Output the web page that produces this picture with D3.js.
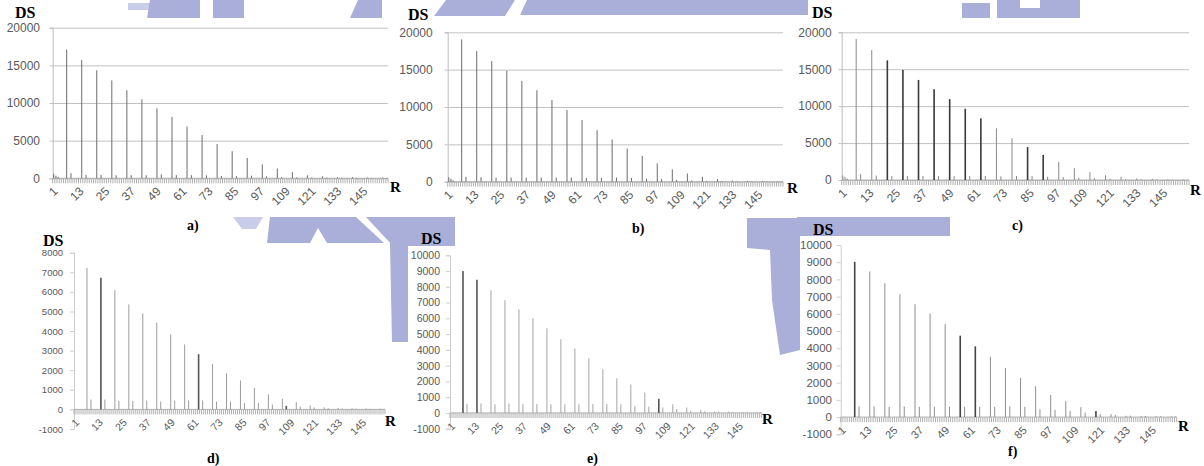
<!DOCTYPE html>
<html>
<head>
<meta charset="utf-8">
<script src="https://cdn.jsdelivr.net/npm/d3@7"></script>
<style>
  body { margin: 0; background: #fff; }
  svg { display: block; }
  .tick-lbl { font-family: "Liberation Sans", Arial, sans-serif; fill: #595959; }
  .serif { font-family: "Liberation Serif", "Times New Roman", serif; font-weight: bold; fill: #000; }
</style>
</head>
<body>
<svg id="fig" width="1204" height="466"></svg>
<script>
// ---- data ---------------------------------------------------------------
const categories = d3.range(1, 157);               // R = 1 .. 156
const tickLabels = ["1","13","25","37","49","61","73","85","97","109","121","133","145"];

// R positions of the strong peaks, the small side peaks and the leading values
const peakR = [7,14,21,28,35,42,49,56,63,70,77,84,91,98,105,112,119,126,133,140,147,154];
const sideR = [9,16,23,30,37,44,51,58,65,72,79,86,93,100,107,114,121,128,135,142,149,156];
const headR = [1,2,3];

const yTicksTop = [0,5000,10000,15000,20000];
const yTicksD   = [-1000,0,1000,2000,3000,4000,5000,6000,7000,8000];
const yTicksEF  = [-1000,0,1000,2000,3000,4000,5000,6000,7000,8000,9000,10000];

const peakA = [17100,15700,14350,13000,11700,10500,9300,8150,6900,5750,4550,3600,2700,1850,1300,800,400,250,150,150,100,100];
const sideA = [680,450,450,400,420,400,530,420,420,400,300,280,350,250,150,120,100,100,80,80,60,60];
const headA = [600,350,200];

const peakB = [19050,17500,16150,14850,13500,12250,10950,9600,8250,6900,5650,4450,3450,2450,1650,1100,650,350,150,100,80,60];
const sideB = [650,600,550,550,550,550,550,550,500,500,550,500,400,350,250,150,100,80,60,60,50,50];
const headB = [600,400,200];

const peakC = [19100,17600,16200,14900,13550,12300,10950,9650,8350,7000,5650,4450,3400,2450,1600,1050,650,450,200,150,100,80];
const sideC = [800,600,550,550,550,550,550,550,550,500,550,550,450,400,300,250,150,100,80,60,50,50];
const headC = [600,450,200];

const peakD = [7230,6720,6090,5360,4900,4430,3830,3320,2820,2330,1840,1480,1100,770,540,370,200,100,80,60,50,40];
const sideD = [500,500,430,430,450,400,450,450,450,400,400,330,330,250,180,150,100,60,50,40,30,30];
const headD = [0,0,0];

const peakE = [9000,8450,7780,7150,6580,6000,5370,4680,4080,3470,2780,2200,1800,1290,900,550,340,170,100,80,60,50];
const sideE = [580,600,550,600,560,560,550,550,550,560,560,550,420,400,350,250,150,100,80,60,50,40];
const headE = [0,0,0];

const peakF = [9020,8460,7780,7140,6560,6020,5400,4730,4110,3510,2860,2280,1800,1290,930,580,350,170,80,60,50,40];
const sideF = [620,620,600,620,600,600,600,600,600,600,620,600,450,420,350,270,170,130,80,60,50,40];
const headF = [0,0,0];

// ---- layout -------------------------------------------------------------
const panels = [
  { name:"a)", peak:peakA, side:sideA, head:headA, yTicks:yTicksTop, grid:true,
    left:52.7, right:388, bottom:178.3, top:27.7, yDomain:[0,20000], gap:12.7, fs:12, xfs:12,
    ds:[15,18], r:[390,192], cap:[187,230], color:"#6c6c6c", heavy:[], heavyColor:"#444" },
  { name:"b)", peak:peakB, side:sideB, head:headB, yTicks:yTicksTop, grid:true,
    left:447.7, right:783, bottom:181.7, top:32.3, yDomain:[0,20000], gap:15, fs:12, xfs:12,
    ds:[408,20], r:[787,193], cap:[632,233], color:"#6c6c6c", heavy:[], heavyColor:"#444" },
  { name:"c)", peak:peakC, side:sideC, head:headC, yTicks:yTicksTop, grid:true,
    left:841.7, right:1189, bottom:180, top:32.3, yDomain:[0,20000], gap:10, fs:12, xfs:12,
    ds:[812,18], r:[1190,195], cap:[1012,230], color:"#8a8a8a",
    heavy:[21,28,35,42,49,56,63,84,91], heavyColor:"#3a3a3a" },
  { name:"d)", peak:peakD, side:sideD, head:headD, yTicks:yTicksD, grid:false,
    left:74, right:385, bottom:429, top:252.7, yDomain:[-1000,8000], gap:11, fs:9.5, xfs:10.5,
    ds:[43,246], r:[385,426], cap:[207,463], color:"#9c9c9c", heavy:[14,63,107], heavyColor:"#555" },
  { name:"e)", peak:peakE, side:sideE, head:headE, yTicks:yTicksEF, grid:false,
    left:450, right:761.7, bottom:428.7, top:255.3, yDomain:[-1000,10000], gap:10, fs:10.5, xfs:10.5,
    ds:[421,244], r:[762,424], cap:[587,463], color:"#a4a4a4", heavy:[7,14,105], heavyColor:"#555" },
  { name:"f)", peak:peakF, side:sideF, head:headF, yTicks:yTicksEF, grid:false,
    left:840.7, right:1176.7, bottom:434.3, top:245, yDomain:[-1000,10000], gap:8.7, fs:11.5, xfs:11,
    ds:[813,235], r:[1178,431], cap:[1008,456], color:"#8e8e8e", heavy:[7,56,63,119], heavyColor:"#444" }
];

const svg = d3.select("#fig");

// ---- background stamp (light blue blocks behind the panels) -------------
const WM = "#a9afd9", WM2 = "#c9cde9";
const stamp = [
  { f:WM2, p:[[128,3],[167,3],[167,10],[128,10]] },
  { f:WM,  p:[[150,0],[200,0],[200,18],[147,18]] },
  { f:WM,  p:[[213,0],[244,0],[244,18],[213,18]] },
  { f:WM,  p:[[358,0],[382,0],[382,18],[350,18]] },
  { f:WM,  p:[[446,0],[515,0],[505,16],[434,16]] },
  { f:WM,  p:[[527,0],[808,0],[808,15],[520,15]] },
  { f:WM,  p:[[962,3],[990,3],[990,18],[962,18]] },
  { f:WM,  p:[[997,0],[1080,0],[1080,18],[997,18]] },
  { f:WM2, p:[[233,217],[263,217],[256,229],[242,229]] },
  { f:WM,  p:[[270,217],[356,217],[384,243],[267,243]] },
  { f:WM,  p:[[366,217],[455,217],[455,246],[393,246]] },
  { f:WM,  p:[[390,243],[408,243],[408,342],[392,342]] },
  { f:WM,  p:[[747,218],[800,218],[800,350],[780,355],[772,300],[770,250],[747,248]] },
  { f:WM,  p:[[797,217],[950,217],[950,236],[797,236]] }
];
svg.append("g").selectAll("polygon").data(stamp).join("polygon")
  .attr("points", d => d.p.map(q => q.join(",")).join(" "))
  .attr("fill", d => d.f);
// white cut-outs inside the stamp
const cuts = [
  { p:[[310,243],[318,228],[327,243]] },
  { p:[[1020,0],[1040,0],[1040,8],[1020,8]] }
];
svg.append("g").selectAll("polygon").data(cuts).join("polygon")
  .attr("points", d => d.p.map(q => q.join(",")).join(" "))
  .attr("fill", "#fff");

// ---- panels ---------------------------------------------------------------
function seriesOf(p) {
  const m = new Map();
  headR.forEach((r, i) => m.set(r, p.head[i]));
  peakR.forEach((r, i) => m.set(r, p.peak[i]));
  sideR.forEach((r, i) => m.set(r, p.side[i]));
  return categories.map(r => ({ r, v: m.get(r) || 0 }));
}

function drawPanel(p) {
  const g = svg.append("g");
  const x = d3.scaleBand().domain(categories).range([p.left, p.right]);
  const y = d3.scaleLinear().domain(p.yDomain).range([p.bottom, p.top]);
  const y0 = y(0);
  const bw = x.bandwidth();

  if (p.grid) {
    g.append("g").attr("transform", `translate(${p.left},0)`)
      .call(d3.axisLeft(y).tickValues(p.yTicks).tickSize(-(p.right - p.left)).tickFormat(""))
      .call(a => a.select(".domain").remove())
      .call(a => a.selectAll("line").attr("stroke", "#c2c2c2"));
  }

  // y axis
  const ya = g.append("g").attr("transform", `translate(${p.left},0)`)
    .call(d3.axisLeft(y).tickValues(p.yTicks).tickSizeOuter(0)
      .tickSize(p.grid ? 3 : 4).tickPadding(p.gap - (p.grid ? 3 : 4))
      .tickFormat(d => String(d)));
  ya.select(".domain").attr("stroke", p.grid ? "#bdbdbd" : "#cfcfcf");
  ya.selectAll(".tick line").attr("stroke", p.grid ? "#bdbdbd" : "#cfcfcf");
  ya.selectAll(".tick text").attr("class", "tick-lbl")
    .style("font-size", p.fs + "px").attr("fill", p.grid ? "#595959" : "#606060");

  // category ticks along the zero line
  g.append("g").selectAll("line").data(categories.concat([null])).join("line")
    .attr("x1", d => d === null ? p.right : x(d))
    .attr("x2", d => d === null ? p.right : x(d))
    .attr("y1", y0).attr("y2", y0 + 5)
    .attr("stroke", "#a8a8a8").attr("stroke-width", 0.9);
  g.append("line").attr("x1", p.left).attr("x2", p.right).attr("y1", y0).attr("y2", y0)
    .attr("stroke", "#b0b0b0");

  // spikes
  const data = seriesOf(p).filter(d => d.v > 0);
  g.append("g").selectAll("rect").data(data).join("rect")
    .attr("x", d => x(d.r) + bw / 2 - (p.heavy.includes(d.r) ? 0.8 : 0.5))
    .attr("width", d => p.heavy.includes(d.r) ? 1.6 : 1)
    .attr("y", d => y(d.v))
    .attr("height", d => y0 - y(d.v))
    .attr("fill", d => p.heavy.includes(d.r) ? p.heavyColor : p.color);

  // category labels
  g.append("g").selectAll("text").data(tickLabels).join("text")
    .attr("class", "tick-lbl")
    .attr("transform", d => `translate(${x(+d) + bw / 2 + 2},${y0 + 11}) rotate(-45)`)
    .attr("text-anchor", "end").attr("dominant-baseline", "central")
    .style("font-size", p.xfs + "px")
    .attr("fill", p.grid ? "#595959" : "#606060")
    .text(d => d);

  // axis names and caption
  g.append("text").attr("class", "serif").attr("x", p.ds[0]).attr("y", p.ds[1])
    .style("font-size", "16px").text("DS");
  g.append("text").attr("class", "serif").attr("x", p.r[0]).attr("y", p.r[1])
    .style("font-size", "15px").text("R");
  g.append("text").attr("class", "serif").attr("x", p.cap[0]).attr("y", p.cap[1])
    .style("font-size", "14px").text(p.name);
}

panels.forEach(drawPanel);
</script>
</body>
</html>
